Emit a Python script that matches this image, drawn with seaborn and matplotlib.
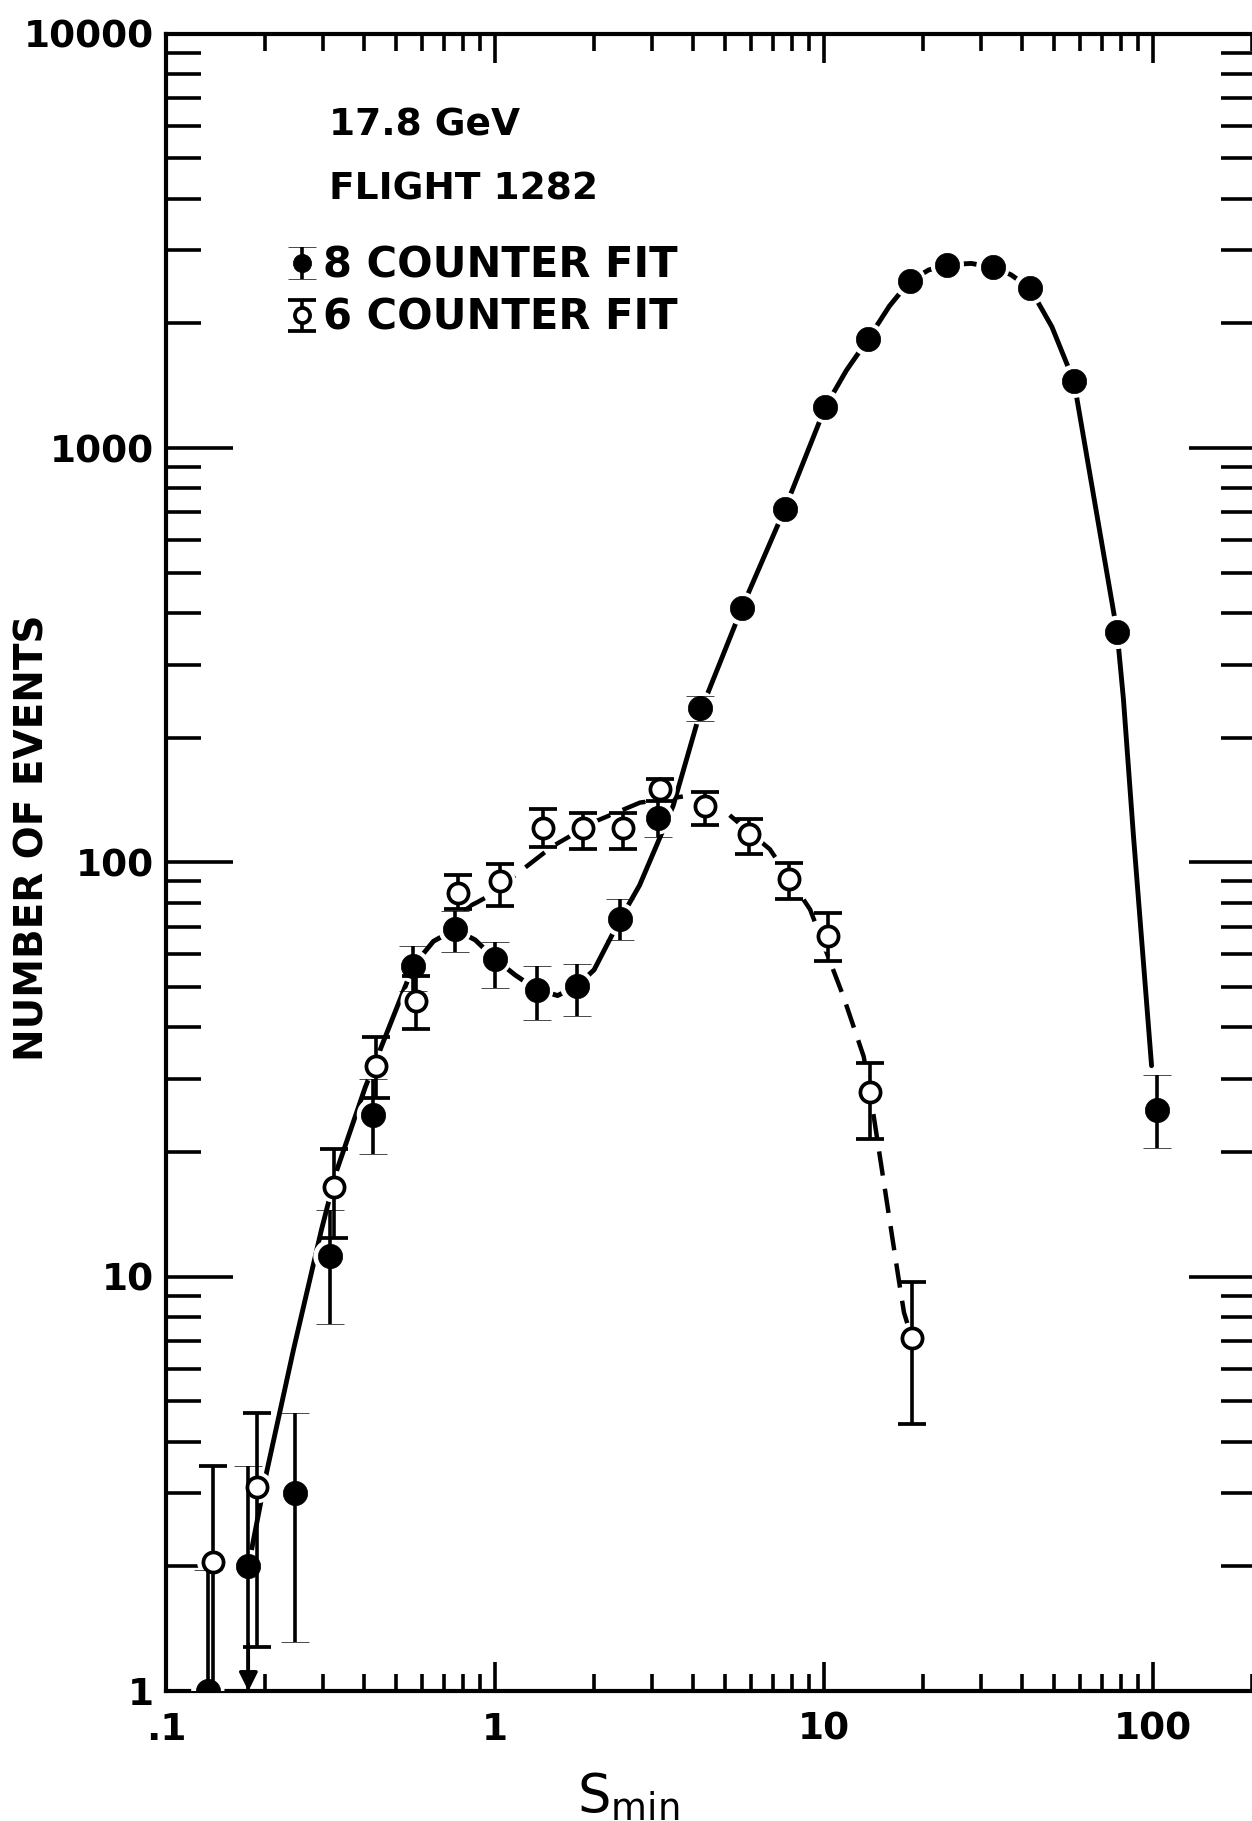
import numpy as np
import pandas as pd
import matplotlib
matplotlib.use("Agg")
import matplotlib.pyplot as plt
import seaborn as sns
from matplotlib.ticker import LogLocator, NullFormatter
from matplotlib.container import ErrorbarContainer
from matplotlib.legend_handler import HandlerErrorbar

# ---------------- data ----------------
NAN = np.nan

# 8 counter fit (filled circles)
s8 = [0.134, 0.178, 0.247, 0.315, 0.427, 0.564, 0.756, 1.00, 1.34, 1.77, 2.40, 3.12,
      4.20, 5.62, 7.6, 10.1, 13.6, 18.2, 23.7, 32.6, 42.3, 57.5, 77.8, 103]
n8 = [1.0, 2.0, 3.0, 11.2, 24.6, 56.2, 68.9, 58.5, 49.3, 50.3, 72.8, 128,
      236, 410, 713, 1258, 1829, 2525, 2767, 2730, 2430, 1449, 359, 25.3]
n8_lo = [0.5, 0.5, 1.31, 7.7, 19.8, 49.0, 60.7, 49.8, 41.6, 42.5, 64.9, 115.4,
         219, NAN, NAN, NAN, NAN, NAN, NAN, NAN, NAN, NAN, NAN, 20.4]
n8_hi = [1.96, 3.5, 4.7, 14.5, 30.0, 62.8, 76.3, 64.2, 56.2, 56.7, 81.4, 140.7,
         252, NAN, NAN, NAN, NAN, NAN, NAN, NAN, NAN, NAN, NAN, 30.6]
arrow_index = 1  # 8-counter point whose lower error reaches zero (arrow)

# 6 counter fit (open circles)
s6 = [0.139, 0.189, 0.323, 0.435, 0.577, 0.774, 1.035, 1.396, 1.855, 2.45, 3.17,
      4.35, 5.93, 7.85, 10.3, 13.8, 18.5]
n6 = [2.05, 3.1, 16.5, 32.2, 46.2, 84.5, 90.1, 121.2, 121.2, 121.2, 150,
      136.8, 116.8, 91.0, 66.4, 27.9, 7.1]
n6_lo = [0.5, 1.28, 12.4, 27.0, 39.7, 77.0, 78.4, 109.0, 107.5, 107.5, 141,
         122.9, 104.6, 81.4, 57.8, 21.5, 4.4]
n6_hi = [3.5, 4.7, 20.3, 37.9, 53.1, 93.0, 98.9, 134.3, 131.9, 131.9, 159,
         147.8, 127.5, 99.8, 75.6, 32.7, 9.7]

# hand-drawn fit curves (solid: 8 counter, dashed: 6 counter)
fit8_s = [0.178, 0.202, 0.244, 0.297, 0.330, 0.403, 0.539, 0.564, 0.650, 0.756,
          0.870, 1.00, 1.15, 1.34, 1.55, 1.77, 2.00, 2.40, 2.75, 3.13, 3.48,
          4.20, 5.62, 7.6, 10.1, 11.7, 13.6, 15.8, 18.2, 20.8, 23.7, 28.0, 32.6,
          37.0, 42.3, 49.3, 57.5, 66.7, 77.8, 81.3, 87.1, 99.0]
fit8_n = [2.0, 3.36, 6.66, 13.0, 18.0, 28.6, 51.2, 56.2, 64.5, 68.9,
          65.0, 58.5, 53.5, 49.3, 47.7, 50.3, 55.0, 72.8, 88.0, 112, 137,
          230, 410, 713, 1258, 1540, 1829, 2200, 2525, 2690, 2767, 2790, 2730,
          2620, 2430, 1960, 1449, 730, 359, 248, 117.5, 32.3]
fit6_s = [0.80, 0.88, 0.99, 1.15, 1.50, 2.04, 2.76, 3.82, 5.06, 6.85, 9.07,
          11.45, 13.2, 13.8, 16.8, 17.5, 18.5]
fit6_n = [77.0, 80.0, 84.2, 93.0, 109.5, 126.0, 139.4, 144.6, 131.8, 107.5, 77.0,
          47.5, 34.0, 27.9, 10.06, 8.2, 7.1]

xticks = [0.1, 1, 10, 100]
xticklabels = [".1", "1", "10", "100"]
yticks = [1, 10, 100, 1000, 10000]
yticklabels = ["1", "10", "100", "1000", "10000"]

annotation_lines = ["17.8 GeV", "FLIGHT 1282"]
legend_labels = ["8 COUNTER FIT", "6 COUNTER FIT"]

# ---------------- figure ----------------
sns.set_theme(style="white")
plt.rcParams["font.family"] = ["DejaVu Sans"]
plt.rcParams["font.weight"] = "bold"
plt.rcParams["mathtext.default"] = "regular"
plt.rcParams["text.color"] = "black"
plt.rcParams["axes.labelcolor"] = "black"
plt.rcParams["xtick.color"] = "black"
plt.rcParams["ytick.color"] = "black"

W, H = 1252, 1821
fig = plt.figure(figsize=(W / 100, H / 100), dpi=100, facecolor="white")
ax_left, ax_right, ax_top, ax_bottom = 166, 1256, 33.7, 1691
ax = fig.add_axes([ax_left / W, 1 - ax_bottom / H,
                   (ax_right - ax_left) / W, (ax_bottom - ax_top) / H])
ax.set_facecolor("white")
ax.set_xscale("log")
ax.set_yscale("log")
ax.set_xlim(0.1, 10 ** (2 + (ax_right - 1153) / 329.0))
ax.set_ylim(1, 10000)

# fit curves
sns.lineplot(x=fit8_s, y=fit8_n, ax=ax, color="black", lw=3.5, estimator=None,
             sort=False, legend=False, zorder=2)
sns.lineplot(x=fit6_s, y=fit6_n, ax=ax, color="black", lw=3.2, estimator=None,
             sort=False, legend=False, zorder=2, linestyle=(0, (5.5, 3.0)))

# white halos around the points (gaps in the curves)
sns.scatterplot(x=s8, y=n8, ax=ax, s=24 ** 2, color="white", edgecolor="none",
                linewidth=0, legend=False, zorder=3)
sns.scatterplot(x=s6, y=n6, ax=ax, s=23 ** 2, color="white", edgecolor="none",
                linewidth=0, legend=False, zorder=3)

# data with error bars
y8 = np.array(n8, float)
err8 = np.vstack([y8 - np.array(n8_lo, float), np.array(n8_hi, float) - y8])
y6 = np.array(n6, float)
err6 = np.vstack([y6 - np.array(n6_lo, float), np.array(n6_hi, float) - y6])

eb8 = ax.errorbar(s8, n8, yerr=err8, fmt="o", ms=17.5, mfc="black", mec="black",
                  mew=0.5, ecolor="black", elinewidth=2.6, capsize=10, capthick=2.8,
                  color="black", zorder=5, label=legend_labels[0])
eb6 = ax.errorbar(s6, n6, yerr=err6, fmt="o", ms=14.5, mfc="white", mec="black",
                  mew=2.7, ecolor="black", elinewidth=2.6, capsize=10, capthick=2.8,
                  color="black", zorder=5, label=legend_labels[1])

# arrow: lower error of the 8-counter point reaching zero
ax.annotate("", xy=(s8[arrow_index], 1.0), xytext=(s8[arrow_index], 1.3),
            arrowprops=dict(arrowstyle="-|>", color="black", lw=2.4,
                            mutation_scale=28, shrinkA=0, shrinkB=0),
            annotation_clip=False, zorder=6)

# ---------------- axes styling ----------------
ax.set_xticks(xticks, labels=xticklabels)
ax.set_yticks(yticks, labels=yticklabels)
ax.xaxis.set_minor_locator(LogLocator(base=10, subs=np.arange(2, 10), numticks=100))
ax.yaxis.set_minor_locator(LogLocator(base=10, subs=np.arange(2, 10), numticks=100))
ax.xaxis.set_minor_formatter(NullFormatter())
ax.yaxis.set_minor_formatter(NullFormatter())

ax.tick_params(which="both", direction="in", top=True, right=True, left=True,
               bottom=True, colors="black", width=2.6)
ax.tick_params(axis="x", which="major", length=21, pad=15, labelsize=27)
ax.tick_params(axis="x", which="minor", length=12)
ax.tick_params(axis="y", which="major", length=48, pad=9, labelsize=27)
ax.tick_params(axis="y", which="minor", length=25)
for sp in ax.spines.values():
    sp.set_visible(True)
    sp.set_linewidth(3.0)
    sp.set_color("black")
ax.grid(False)

ax.set_ylabel("NUMBER OF EVENTS", fontsize=28, fontweight="bold", color="black",
              va="center")
ax.yaxis.set_label_coords((33 - ax_left) / (ax_right - ax_left),
                          (ax_bottom - 838) / (ax_bottom - ax_top))
ax.set_xlabel(r"$\mathregular{S_{min}}$", fontsize=38, color="black")
ax.xaxis.set_label_coords((628 - ax_left) / (ax_right - ax_left),
                          -(1771 - ax_bottom) / (ax_bottom - ax_top))

# annotations
for txt, base in zip(annotation_lines, [136, 200]):
    ax.text((329 - ax_left) / (ax_right - ax_left),
            (ax_bottom - base) / (ax_bottom - ax_top), txt,
            transform=ax.transAxes, fontsize=27, fontweight="bold", ha="left",
            va="baseline", color="black")

leg = ax.legend(handles=[eb8, eb6], labels=legend_labels, loc="upper left",
                bbox_to_anchor=((281 - ax_left) / (ax_right - ax_left),
                                (ax_bottom - 244.5) / (ax_bottom - ax_top)),
                frameon=False, handlelength=1.0, handletextpad=0.0,
                prop={"size": 30, "weight": "bold"}, labelcolor="black",
                borderpad=0, borderaxespad=0, labelspacing=0.25, markerscale=0.75,
                handler_map={ErrorbarContainer: HandlerErrorbar(xerr_size=0.38)})

fig.savefig("out.png", dpi=100, facecolor="white")
